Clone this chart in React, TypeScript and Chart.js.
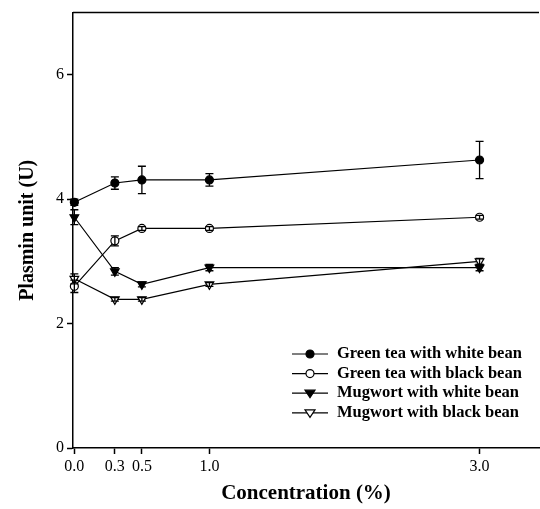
import React, { useEffect, useRef } from "react";
import { Chart, registerables } from "chart.js";

Chart.register(...registerables);

const concentrations = [0.0, 0.3, 0.5, 1.0, 3.0];
const xTickValues = [0.0, 0.3, 0.5, 1.0, 3.0];
const yTickValues = [0, 2, 4, 6];

const seriesNames = [
  "Green tea with white bean",
  "Green tea with black bean",
  "Mugwort with white bean",
  "Mugwort with black bean",
];

const greenTeaWhite = [3.95, 4.26, 4.31, 4.31, 4.63];
const greenTeaWhiteErr = [0.05, 0.1, 0.22, 0.1, 0.3];
const greenTeaBlack = [2.6, 3.33, 3.53, 3.53, 3.71];
const greenTeaBlackErr = [0.1, 0.08, 0.03, 0.03, 0.03];
const mugwortWhite = [3.71, 2.84, 2.63, 2.9, 2.9];
const mugwortWhiteErr = [0.12, 0.06, 0.04, 0.05, 0.05];
const mugwortBlack = [2.72, 2.39, 2.39, 2.63, 3.0];
const mugwortBlackErr = [0.08, 0.03, 0.03, 0.03, 0.05];

const FONT_SERIF = "'Liberation Serif', 'Times New Roman', serif";

type Style = { fill: boolean; shape: "circle" | "triangle" };
const styles: Style[] = [
  { fill: true, shape: "circle" },
  { fill: false, shape: "circle" },
  { fill: true, shape: "triangle" },
  { fill: false, shape: "triangle" },
];

function drawMarker(ctx: CanvasRenderingContext2D, x: number, y: number, s: Style) {
  ctx.save();
  ctx.beginPath();
  if (s.shape === "circle") {
    ctx.arc(x, y, 4, 0, Math.PI * 2);
  } else {
    const r = 5;
    ctx.moveTo(x - r, y - r * 0.6);
    ctx.lineTo(x + r, y - r * 0.6);
    ctx.lineTo(x, y + r * 0.9);
    ctx.closePath();
  }
  ctx.fillStyle = s.fill ? "#000" : "#fff";
  ctx.fill();
  ctx.lineWidth = 1.2;
  ctx.strokeStyle = "#000";
  ctx.stroke();
  ctx.restore();
}

const errorBarPlugin = {
  id: "errorBars",
  afterDatasetsDraw(chart: any) {
    const ctx = chart.ctx as CanvasRenderingContext2D;
    const xs = chart.scales.x;
    const ys = chart.scales.y;
    chart.data.datasets.forEach((ds: any) => {
      const errs: number[] = ds.errors || [];
      ds.data.forEach((p: any, i: number) => {
        const e = errs[i];
        if (!e) return;
        const px = xs.getPixelForValue(p.x);
        const top = ys.getPixelForValue(p.y + e);
        const bot = ys.getPixelForValue(p.y - e);
        ctx.save();
        ctx.strokeStyle = "#000";
        ctx.lineWidth = 1.3;
        ctx.beginPath();
        ctx.moveTo(px, top);
        ctx.lineTo(px, bot);
        ctx.moveTo(px - 4, top);
        ctx.lineTo(px + 4, top);
        ctx.moveTo(px - 4, bot);
        ctx.lineTo(px + 4, bot);
        ctx.stroke();
        ctx.restore();
      });
    });
  },
};

const frameLegendPlugin = {
  id: "frameLegend",
  afterDraw(chart: any) {
    const ctx = chart.ctx as CanvasRenderingContext2D;
    const area = chart.chartArea;
    ctx.save();
    ctx.strokeStyle = "#000";
    ctx.lineWidth = 1.5;
    ctx.beginPath();
    ctx.moveTo(area.left, area.top);
    ctx.lineTo(area.right, area.top);
    ctx.stroke();
    ctx.restore();

    const x0 = 292;
    const y0 = 354;
    const dy = 19.6;
    seriesNames.forEach((name, i) => {
      const y = y0 + i * dy;
      ctx.save();
      ctx.strokeStyle = "#000";
      ctx.lineWidth = 1.2;
      ctx.beginPath();
      ctx.moveTo(x0, y);
      ctx.lineTo(x0 + 36, y);
      ctx.stroke();
      drawMarker(ctx, x0 + 18, y, styles[i]);
      ctx.fillStyle = "#000";
      ctx.font = `bold 16.5px ${FONT_SERIF}`;
      ctx.textBaseline = "middle";
      ctx.textAlign = "left";
      ctx.fillText(name, x0 + 45, y);
      ctx.restore();
    });
  },
};

export default function App() {
  const canvasRef = useRef<HTMLCanvasElement | null>(null);

  useEffect(() => {
    if (!canvasRef.current) return;
    const all = [greenTeaWhite, greenTeaBlack, mugwortWhite, mugwortBlack];
    const errs = [greenTeaWhiteErr, greenTeaBlackErr, mugwortWhiteErr, mugwortBlackErr];
    const datasets = all.map((vals, i) => ({
      label: seriesNames[i],
      data: concentrations.map((c, j) => ({ x: c, y: vals[j] })),
      errors: errs[i],
      showLine: true,
      borderColor: "#000",
      borderWidth: 1.2,
      backgroundColor: styles[i].fill ? "#000" : "#fff",
      pointBorderColor: "#000",
      pointBackgroundColor: styles[i].fill ? "#000" : "#fff",
      pointBorderWidth: 1.2,
      pointStyle: styles[i].shape,
      pointRotation: styles[i].shape === "triangle" ? 180 : 0,
      pointRadius: styles[i].shape === "triangle" ? 5 : 4,
      tension: 0,
      clip: false,
    }));

    const chart = new Chart(canvasRef.current, {
      type: "scatter",
      data: { datasets } as any,
      options: {
        animation: false,
        responsive: true,
        maintainAspectRatio: false,
        layout: { autoPadding: false, padding: { top: 12.5, right: 1, left: 0, bottom: 0 } },
        plugins: {
          legend: { display: false },
          tooltip: { enabled: false },
        },
        scales: {
          x: {
            type: "linear",
            min: -0.01,
            max: 3.44,
            afterBuildTicks: (scale: any) => {
              scale.ticks = xTickValues.map((v) => ({ value: v }));
            },
            afterFit: (scale: any) => {
              scale.height = 61;
            },
            ticks: {
              color: "#000",
              font: { family: FONT_SERIF, size: 16 },
              padding: 3,
              maxRotation: 0,
              autoSkip: false,
              callback: (v: any) => Number(v).toFixed(1),
            },
            grid: {
              drawOnChartArea: false,
              drawTicks: true,
              tickLength: 6,
              color: "#000",
              tickColor: "#000",
              tickWidth: 1.5,
            },
            border: { color: "#000", width: 1.5 },
            title: {
              display: true,
              text: "Concentration (%)",
              color: "#000",
              font: { family: FONT_SERIF, size: 21, weight: "bold" },
              padding: { top: 0, bottom: 3 },
            },
          },
          y: {
            type: "linear",
            min: 0,
            max: 7,
            afterBuildTicks: (scale: any) => {
              scale.ticks = yTickValues.map((v) => ({ value: v }));
            },
            afterFit: (scale: any) => {
              scale.width = 73;
            },
            ticks: {
              color: "#000",
              font: { family: FONT_SERIF, size: 16 },
              padding: 3,
              callback: (v: any) => String(v),
            },
            grid: {
              drawOnChartArea: false,
              drawTicks: true,
              tickLength: 6,
              color: "#000",
              tickColor: "#000",
              tickWidth: 1.5,
            },
            border: { color: "#000", width: 1.5 },
            title: {
              display: true,
              text: "Plasmin unit (U)",
              color: "#000",
              font: { family: FONT_SERIF, size: 20, weight: "bold" },
              padding: { top: 16, bottom: 0 },
            },
          },
        },
      },
      plugins: [errorBarPlugin, frameLegendPlugin],
    });
    return () => chart.destroy();
  }, []);

  return (
    <div style={{ position: "absolute", left: 0, top: 0, width: 540, height: 509, background: "#fff" }}>
      <canvas ref={canvasRef} />
    </div>
  );
}
